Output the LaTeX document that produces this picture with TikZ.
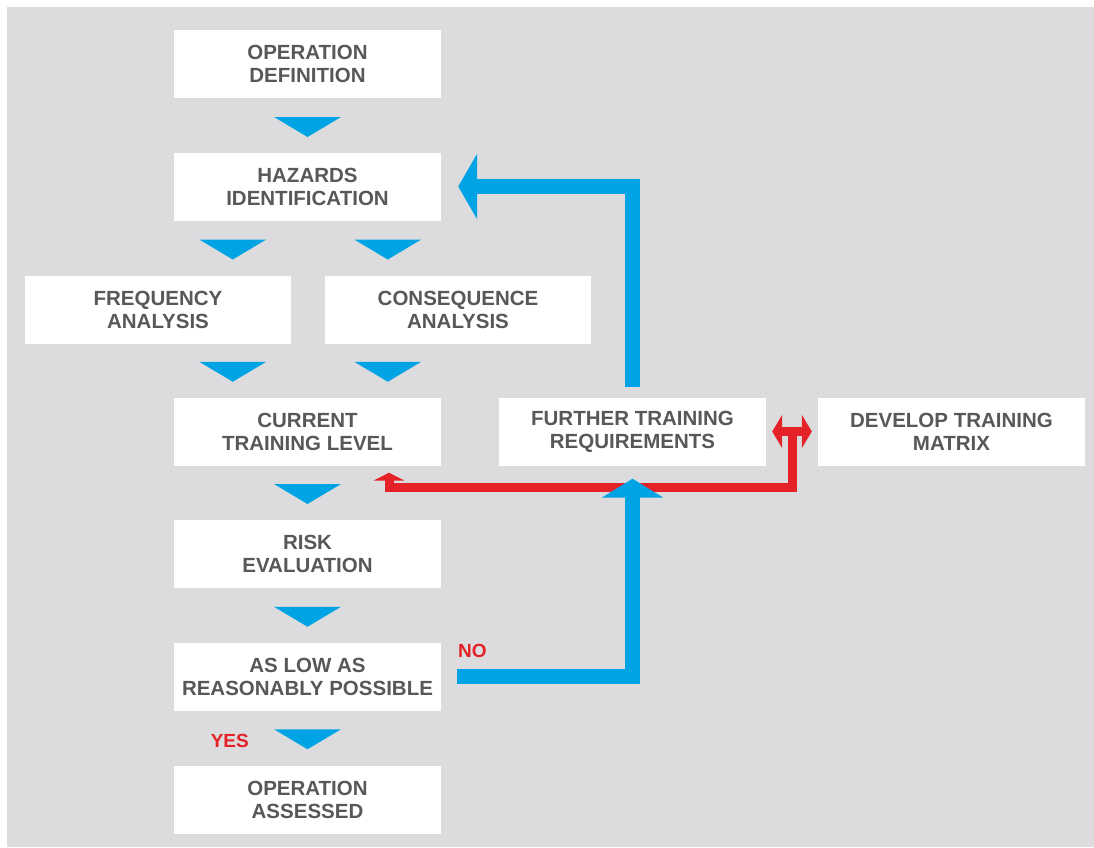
\documentclass[tikz,border=0pt]{standalone}
\usepackage{fontspec}
\setmainfont{Liberation Sans}
\usetikzlibrary{arrows.meta,calc}
\definecolor{bggray}{RGB}{220,220,222}
\definecolor{tblue}{RGB}{0,164,228}
\definecolor{tred}{RGB}{228,34,40}
\definecolor{tgray}{RGB}{88,88,90}
\begin{document}
\begin{tikzpicture}[x=1pt,y=-1pt,
  box/.style={fill=white,minimum width=267pt,minimum height=68pt,inner sep=0pt,
    align=center,text=tgray,font=\fontsize{20.5}{23}\selectfont\bfseries},
  lbl/.style={text=tred,font=\fontsize{19}{21}\selectfont\bfseries,inner sep=0pt},
  bluearrow/.style={draw=tblue,line width=15pt,line join=miter},
  redarrow/.style={draw=tred,line width=9pt,line join=miter},
  dtri/.pic={\fill[tblue] (-33.5,-10) -- (33.5,-10) -- (0,10) -- cycle;}
]
\useasboundingbox (0,0) rectangle (1094,847);
\fill[white] (0,0) rectangle (1094,847);
\fill[bggray] (7,7) rectangle (1094,847);

\node[box] (opdef) at (307.5,64) {OPERATION\\DEFINITION};
\node[box] (haz) at (307.5,187) {HAZARDS\\IDENTIFICATION};
\node[box,minimum width=266pt] (freq) at (158,310) {FREQUENCY\\ANALYSIS};
\node[box,minimum width=266pt] (cons) at (458,310) {CONSEQUENCE\\ANALYSIS};
\node[box] (curr) at (307.5,431.5) {CURRENT\\TRAINING LEVEL};
\node[box] (further) at (632.5,431.5) {FURTHER TRAINING\\REQUIREMENTS};
\node[box] (develop) at (951.5,431.5) {DEVELOP TRAINING\\MATRIX};
\node[box] (risk) at (307.5,553.5) {RISK\\EVALUATION};
\node[box] (alarp) at (307.5,677) {AS LOW AS\\REASONABLY POSSIBLE};
\node[box] (assessed) at (307.5,799.5) {OPERATION\\ASSESSED};

% downward triangles
\pic at ($(opdef.south)!0.5!(haz.north)+(0,1.5)$) {dtri};
\pic at ($(haz.south)!0.5!(freq.north)+(0,1)$) {dtri};
\pic at ($(haz.south)!0.5!(cons.north)+(5,1)$) {dtri};
\pic at ($(freq.south)!0.5!(curr.north)+(0,1)$) {dtri};
\pic at ($(cons.south)!0.5!(curr.north)+(5,1)$) {dtri};
\pic at ($(curr.south)!0.5!(risk.north)+(0,1.5)$) {dtri};
\pic at ($(risk.south)!0.5!(alarp.north)+(0,1.5)$) {dtri};
\pic at ($(alarp.south)!0.5!(assessed.north)+(0,1)$) {dtri};

% red connectors
\coordinate (tmid) at ($(further.east)!0.5!(develop.west)$);
\draw[redarrow,{Triangle[length=10pt,width=33pt]}-{Triangle[length=10pt,width=33pt]}]
  ($(further.east)+(6,0)$) -- ($(develop.west)+(-6,0)$);
\draw[redarrow,-{Triangle[length=8pt,width=31pt]}]
  ($(tmid)+(0,-4)$) |- ($(curr.south)+(81.5,22)$) -| ($(curr.south)+(81.5,7)$);

% blue connectors
\draw[bluearrow,-{Triangle[length=19pt,width=65pt]}]
  ($(further.north)+(0,-10)$) |- ($(haz.east)+(17,-0.5)$);
\draw[bluearrow,-{Triangle[length=19pt,width=61pt]}]
  ($(alarp.east)+(16,-0.5)$) -| ($(further.south)+(0,13)$);

\node[lbl,anchor=west] (no) at (458,651) {NO};
\node[lbl,anchor=east] (yes) at (249,741) {YES};
\end{tikzpicture}
\end{document}
